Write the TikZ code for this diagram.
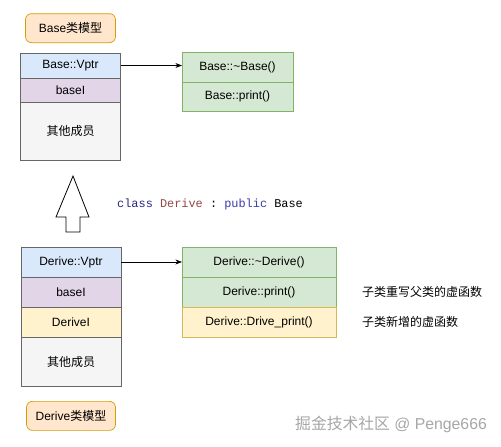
\documentclass[tikz,border=0pt]{standalone}
\usepackage{fontspec}
\setmainfont{Liberation Sans}
\setmonofont{Liberation Mono}
\newfontfamily\cjk{Noto Sans CJK SC}
\usepackage{xcolor}
\usepackage{tikz}
\usetikzlibrary{positioning, arrows.meta}

\definecolor{vblue}{HTML}{DAE8FC}
\definecolor{vbluel}{HTML}{6C8EBF}
\definecolor{mpurple}{HTML}{E1D5E7}
\definecolor{mpurplel}{HTML}{9673A6}
\definecolor{myellow}{HTML}{FFF2CC}
\definecolor{myellowl}{HTML}{D6B656}
\definecolor{fgreen}{HTML}{D5E8D4}
\definecolor{fgreenl}{HTML}{82B366}
\definecolor{ogrey}{HTML}{F5F5F5}
\definecolor{ogreyl}{HTML}{666666}
\definecolor{tagfill}{HTML}{FFE6CC}
\definecolor{tagline}{HTML}{D79B00}
\definecolor{kwclass}{RGB}{40,40,130}
\definecolor{kwname}{RGB}{150,70,70}
\definecolor{kwpublic}{RGB}{60,60,170}

\begin{document}
\begin{tikzpicture}[
  x=1pt, y=-1pt,
  font=\fontsize{12}{14}\selectfont,
  cell/.style={draw, line width=0.7pt, inner sep=0pt, outer sep=0pt, minimum width=100pt},
  vptr/.style={cell, fill=vblue, draw=ogreyl},
  member/.style={cell, fill=mpurple, draw=ogreyl},
  newmember/.style={cell, fill=myellow, draw=ogreyl},
  others/.style={cell, fill=ogrey, draw=ogreyl},
  vfunc/.style={draw, line width=0.7pt, inner sep=0pt, outer sep=0pt, fill=fgreen, draw=fgreenl, minimum height=30pt},
  vnew/.style={vfunc, fill=myellow, draw=myellowl},
  tag/.style={draw, line width=0.7pt, rounded corners=6pt, fill=tagfill, draw=tagline, minimum width=90pt, minimum height=29pt, inner sep=0pt},
  note/.style={inner sep=0pt, anchor=west, font=\fontsize{12}{14}\selectfont\cjk},
  arr/.style={-Stealth, line width=0.8pt}
]
\useasboundingbox (0,0) rectangle (501,447);

% Base class layout
\node[vptr, minimum height=25pt] (bvptr) at (70.5,65.5) {Base::Vptr};
\node[member, minimum height=24pt, below=0pt of bvptr] (bbase) {baseI};
\node[others, minimum height=58pt, below=0pt of bbase] (bother) {\cjk 其他成员};
\node[tag, above=10pt of bvptr] (btag) {Base{\cjk 类模型}};

\node[vfunc, minimum width=111pt] (bdtor) at (237.5,67) {Base::\textasciitilde Base()};
\node[vfunc, minimum width=111pt, minimum height=29pt, below=0pt of bdtor] (bprint) {Base::print()};
\draw[arr] (bvptr.east) -- (bvptr.east -| bdtor.west);

% inheritance
\draw[line width=0.8pt, fill=white] (73,176) -- (89,217) -- (80,217) -- (80,232)
  -- (66,232) -- (66,217) -- (56,217) -- cycle;
\node[anchor=west, inner sep=0pt, font=\fontsize{11.9}{13}\ttfamily] (decl) at (117,204)
  {\textcolor{kwclass}{class} \textcolor{kwname}{Derive} : \textcolor{kwpublic}{public} Base};

% Derive class layout
\node[vptr, minimum height=30pt] (dvptr) at (71,262) {Derive::Vptr};
\node[member, minimum height=30pt, below=0pt of dvptr] (dbase) {baseI};
\node[newmember, minimum height=30pt, below=0pt of dbase] (dderive) {DeriveI};
\node[others, minimum height=49pt, below=0pt of dderive] (dother) {\cjk 其他成员};
\node[tag, minimum width=89pt, below=15pt of dother] (dtag) {Derive{\cjk 类模型}};

\node[vfunc, minimum width=154pt] (ddtor) at (259,262) {Derive::\textasciitilde Derive()};
\node[vfunc, minimum width=154pt, below=0pt of ddtor] (dprint) {Derive::print()};
\node[vnew, minimum width=154pt, below=0pt of dprint] (ddrive) {Derive::Drive\_print()};
\draw[arr] (dvptr.east) -- (dvptr.east -| ddtor.west);

\node[note, right=26pt of dprint] (override) {子类重写父类的虚函数};
\node[note, right=26pt of ddrive] (added) {子类新增的虚函数};

\node[anchor=west, inner sep=0pt, text=gray!70, font=\fontsize{15.8}{18}\selectfont] (mark) at (295,424)
  {{\cjk 掘金技术社区} @ Penge666};
\end{tikzpicture}
\end{document}
